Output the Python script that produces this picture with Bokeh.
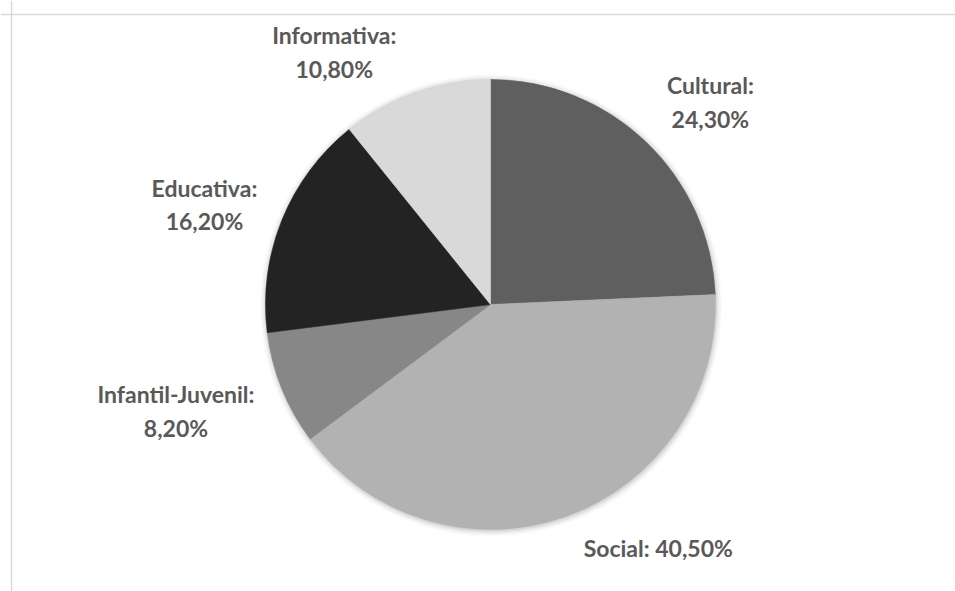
import math
from bokeh.plotting import figure
from bokeh.models import ColumnDataSource, Span, Range1d
from bokeh.core.properties import value
from bokeh.embed import file_html
from bokeh.resources import INLINE

# ---- data ----
categories = ["Cultural", "Social", "Infantil-Juvenil", "Educativa", "Informativa"]
shares = [24.3, 40.5, 8.2, 16.2, 10.8]
label_texts = ["Cultural:\n24,30%", "Social: 40,50%", "Infantil-Juvenil:\n8,20%",
               "Educativa:\n16,20%", "Informativa:\n10,80%"]
colors = ["#5f5f5f", "#b2b2b2", "#878787", "#232323", "#d9d9d9"]

# ---- layout ----
W, H = 955, 591
CX, CY = 490, H - 304      # pie centre in plot units (1 unit = 1 px)
R = 225
label_angle_nudge = [3.6, -14.9, 3.3, -2.7, -12.3]   # degrees
label_dist = [299, 296, 332, 303, 297]
FONT = "Lato"
TXT_COL = "#595959"

total = sum(shares)
starts, ends, mids = [], [], []
cum = 0.0
for s in shares:
    a0 = cum / total
    cum += s
    a1 = cum / total
    # bokeh angles: anticlockwise from +x; chart goes clockwise from 12 o'clock
    starts.append(math.pi / 2 - a1 * 2 * math.pi)
    ends.append(math.pi / 2 - a0 * 2 * math.pi)
    mids.append((a0 + a1) / 2 * 360.0)

lx, ly = [], []
for m, nd, d in zip(mids, label_angle_nudge, label_dist):
    a = math.radians(m + nd)
    lx.append(CX + d * math.sin(a))
    ly.append(CY + d * math.cos(a))

src = ColumnDataSource(dict(cat=categories, share=shares, start=starts, end=ends,
                            color=colors, x=[CX] * len(shares), y=[CY] * len(shares)))
lab = ColumnDataSource(dict(x=lx, y=ly, text=label_texts))

p = figure(width=W, height=H, output_backend="svg", toolbar_location=None,
           x_range=Range1d(0, W), y_range=Range1d(0, H), min_border=0,
           background_fill_color="white", border_fill_color="white")
p.axis.visible = False
p.grid.visible = False
p.outline_line_color = None

# chart-area border (left and top edges visible)
p.add_layout(Span(location=11, dimension="height", line_color="#d9d9d9", line_width=1.5))
p.add_layout(Span(location=H - 14, dimension="width", line_color="#d9d9d9", line_width=1.5))

# soft shadow
for i, a in enumerate([0.05, 0.04, 0.03, 0.02, 0.015]):
    p.circle(x=[CX + 0.5], y=[CY - 1], radius=R + 1 + i * 1.3, fill_color="black",
             fill_alpha=a, line_color=None)

p.wedge(x="x", y="y", radius=R, start_angle="start", end_angle="end",
        direction="anticlock", fill_color="color", line_color="color",
        line_width=0.6, source=src)

p.text(x="x", y="y", text="text", source=lab, text_font=value(FONT),
       text_font_style="bold", text_font_size="23px", text_color=TXT_COL,
       text_align="center", text_baseline="middle", text_line_height=1.2)

open("out.html", "w").write(file_html(p, INLINE))
